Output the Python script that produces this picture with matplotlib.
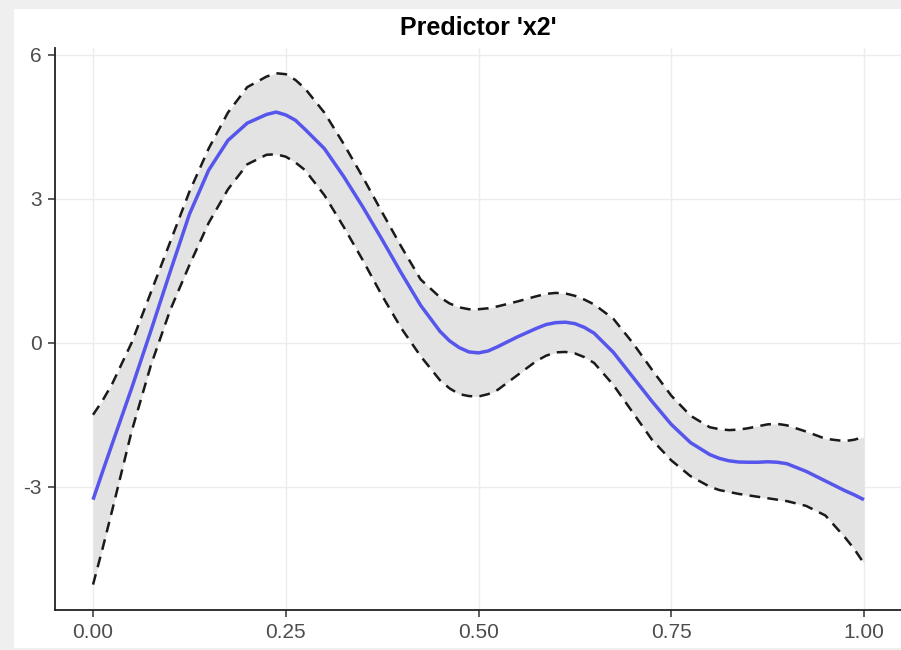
import numpy as np
import matplotlib
matplotlib.use("Agg")
import matplotlib.pyplot as plt
from matplotlib.patches import Rectangle

# Smooth effect of predictor x2 with its confidence band
x = [0.0000, 0.0125, 0.0250, 0.0500, 0.0750, 0.1000, 0.1250, 0.1500, 0.1750,
     0.2000, 0.2250, 0.2375, 0.2500, 0.2625, 0.2750, 0.3000, 0.3250, 0.3500,
     0.3750, 0.4000, 0.4250, 0.4500, 0.4625, 0.4750, 0.4875, 0.5000, 0.5125,
     0.5250, 0.5500, 0.5750, 0.5875, 0.6000, 0.6125, 0.6250, 0.6375, 0.6500,
     0.6750, 0.7000, 0.7250, 0.7500, 0.7750, 0.8000, 0.8125, 0.8250, 0.8375,
     0.8500, 0.8625, 0.8750, 0.8875, 0.9000, 0.9250, 0.9500, 0.9750, 0.9875,
     1.0000]

fit = [-3.27, -2.68, -2.10, -0.95, 0.25, 1.48, 2.68, 3.60, 4.22,
       4.58, 4.76, 4.81, 4.75, 4.64, 4.45, 4.05, 3.47, 2.83,
       2.15, 1.45, 0.78, 0.24, 0.04, -0.10, -0.19, -0.21, -0.17,
       -0.08, 0.12, 0.30, 0.38, 0.42, 0.43, 0.40, 0.32, 0.20,
       -0.20, -0.71, -1.22, -1.70, -2.08, -2.33, -2.41, -2.46, -2.485,
       -2.49, -2.49, -2.48, -2.49, -2.52, -2.68, -2.88, -3.08, -3.17,
       -3.27]

upper = [-1.50, -1.20, -0.85, 0.00, 1.05, 2.10, 3.15, 4.05, 4.80,
         5.33, 5.55, 5.62, 5.60, 5.48, 5.30, 4.80, 4.15, 3.45,
         2.72, 2.00, 1.32, 0.95, 0.82, 0.74, 0.70, 0.70, 0.72,
         0.76, 0.86, 0.97, 1.02, 1.04, 1.03, 0.98, 0.90, 0.80,
         0.50, 0.00, -0.56, -1.10, -1.52, -1.76, -1.80, -1.82, -1.81,
         -1.78, -1.74, -1.70, -1.69, -1.72, -1.85, -2.00, -2.05, -2.02,
         -1.96]

lower = [-5.04, -4.28, -3.48, -1.85, -0.47, 0.68, 1.62, 2.50, 3.20,
         3.72, 3.92, 3.93, 3.88, 3.76, 3.60, 3.08, 2.42, 1.72,
         0.98, 0.30, -0.28, -0.78, -0.95, -1.07, -1.11, -1.12, -1.07,
         -0.98, -0.68, -0.38, -0.27, -0.20, -0.19, -0.22, -0.30, -0.42,
         -0.88, -1.45, -2.02, -2.45, -2.78, -3.00, -3.07, -3.11, -3.15,
         -3.18, -3.21, -3.24, -3.27, -3.30, -3.40, -3.60, -4.05, -4.30,
         -4.60]

x_ticks = [0.00, 0.25, 0.50, 0.75, 1.00]
x_labels = ["0.00", "0.25", "0.50", "0.75", "1.00"]
y_ticks = [-3, 0, 3, 6]
y_labels = ["-3", "0", "3", "6"]
title = "Predictor 'x2'"

plt.rcParams["font.family"] = ["Liberation Sans", "DejaVu Sans"]

W, H = 901, 650
fig = plt.figure(figsize=(W / 100, H / 100), dpi=100, facecolor="#efefef")

# white panel inside the light grey frame
fig.patches.append(Rectangle((14 / W, 2 / H), (W - 14) / W, 639 / H,
                             transform=fig.transFigure, facecolor="white",
                             edgecolor="none", zorder=-10))

ax_left, ax_right = 54.5, 902.5
ax_bottom, ax_top = 610, 47.8
ax = fig.add_axes([ax_left / W, (H - ax_bottom) / H,
                   (ax_right - ax_left) / W, (ax_bottom - ax_top) / H])
ax.set_zorder(5)
ax.set_facecolor("none")

ax.fill_between(x, lower, upper, color="#e3e3e3", lw=0, zorder=2)
ax.plot(x, upper, color="#1a1a1a", lw=1.8, dashes=(4.3, 2.9), zorder=3,
        dash_capstyle="butt", dash_joinstyle="round")
ax.plot(x, lower, color="#1a1a1a", lw=1.8, dashes=(4.3, 2.9), zorder=3,
        dash_capstyle="butt", dash_joinstyle="round")
ax.plot(x, fit, color="#5656EC", lw=2.5, zorder=4, solid_capstyle="butt",
        solid_joinstyle="round")

ax.set_xlim(-0.05, 1.05)
ax.set_ylim(-5.57, 6.15)
ax.set_xticks(x_ticks)
ax.set_xticklabels(x_labels)
ax.set_yticks(y_ticks)
ax.set_yticklabels(y_labels)

ax.grid(True, color="#ececec", lw=1.0, zorder=1)
ax.set_axisbelow(True)
for side in ("top", "right"):
    ax.spines[side].set_visible(False)
for side in ("left", "bottom"):
    ax.spines[side].set_color("#222222")
    ax.spines[side].set_linewidth(1.3)

ax.tick_params(axis="both", length=5, width=1.1, color="#333333",
               labelcolor="#4d4d4d", labelsize=15, pad=4)

fig.text((ax_left + ax_right) / 2 / W, 1 - 28 / H, title, ha="center",
         va="center", fontsize=18, fontweight="bold", color="black")

fig.savefig("out.png", dpi=100, facecolor=fig.get_facecolor())
